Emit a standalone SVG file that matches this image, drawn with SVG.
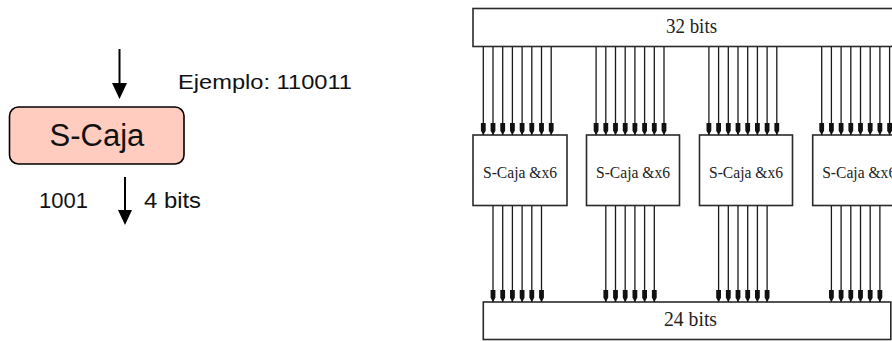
<svg xmlns="http://www.w3.org/2000/svg" width="892" height="341" viewBox="0 0 892 341">
<style>
.sans{font-family:"Liberation Sans",Arial,sans-serif;fill:#111}
.serif{font-family:"Liberation Serif","Times New Roman",serif;fill:#222}
.box{fill:#fff;stroke:#2a2a2a;stroke-width:1.6}
.w line{stroke:#1a1a1a;stroke-width:1.3;marker-end:url(#sm)}
.ar{stroke:#000;stroke-width:2}
</style>
<defs>
<marker id="sm" markerUnits="userSpaceOnUse" markerWidth="12" markerHeight="6" refX="11" refY="2.5" orient="auto" viewBox="0 0 11 5">
<path d="M0,0.3 L7,0.3 L11,2.5 L7,4.7 L0,4.7 Z" fill="#111"/>
</marker>
</defs>

<g id="left-connectors">
<line class="ar" x1="119.5" y1="49" x2="119.5" y2="84"/>
<path d="M112,83 L127,83 L119.5,99 Z" fill="#000"/>
<line class="ar" x1="125" y1="177" x2="125" y2="211"/>
<path d="M118,210 L132,210 L125,225 Z" fill="#000"/>
</g>

<g id="scaja-node">
<rect x="9.5" y="107" width="174.5" height="57" rx="9" ry="9" fill="#FFCCBF" stroke="#000" stroke-width="1.6"/>
<text class="sans" x="97" y="146" font-size="31" text-anchor="middle">S-Caja</text>
</g>

<g id="left-labels">
<text class="sans" x="178" y="89" font-size="21" textLength="174" lengthAdjust="spacingAndGlyphs">Ejemplo: 110011</text>
<text class="sans" x="39" y="208" font-size="22">1001</text>
<text class="sans" x="144" y="208" font-size="22" textLength="57" lengthAdjust="spacingAndGlyphs">4 bits</text>
</g>

<g id="input-32">
<rect class="box" x="473" y="8.5" width="440" height="38"/>
<text class="serif" x="691.5" y="33" font-size="21" text-anchor="middle" textLength="51" lengthAdjust="spacingAndGlyphs">32 bits</text>
</g>

<g id="output-24">
<rect class="box" x="483.3" y="302" width="407.5" height="37.5"/>
<text class="serif" x="690.5" y="326" font-size="21" text-anchor="middle" textLength="53" lengthAdjust="spacingAndGlyphs">24 bits</text>
</g>

<g id="sbox-1">
<rect class="box" x="473" y="135" width="94" height="70.5"/>
<text class="serif" x="520" y="178" font-size="17" text-anchor="middle" textLength="74" lengthAdjust="spacingAndGlyphs">S-Caja &amp;x6</text>
</g>
<g id="sbox-2">
<rect class="box" x="586.5" y="135" width="93" height="70.5"/>
<text class="serif" x="633" y="178" font-size="17" text-anchor="middle" textLength="74" lengthAdjust="spacingAndGlyphs">S-Caja &amp;x6</text>
</g>
<g id="sbox-3">
<rect class="box" x="699.5" y="135" width="93" height="70.5"/>
<text class="serif" x="746" y="178" font-size="17" text-anchor="middle" textLength="74" lengthAdjust="spacingAndGlyphs">S-Caja &amp;x6</text>
</g>
<g id="sbox-4">
<rect class="box" x="812.7" y="135" width="93" height="70.5"/>
<text class="serif" x="859.2" y="178" font-size="17" text-anchor="middle" textLength="74" lengthAdjust="spacingAndGlyphs">S-Caja &amp;x6</text>
</g>

<g id="connectors" class="w">
<line x1="483.3" y1="47" x2="483.3" y2="135"/><line x1="493" y1="47" x2="493" y2="135"/><line x1="502.7" y1="47" x2="502.7" y2="135"/><line x1="512.4" y1="47" x2="512.4" y2="135"/><line x1="522.1" y1="47" x2="522.1" y2="135"/><line x1="531.8" y1="47" x2="531.8" y2="135"/><line x1="541.5" y1="47" x2="541.5" y2="135"/><line x1="551.2" y1="47" x2="551.2" y2="135"/>
<line x1="596.1" y1="47" x2="596.1" y2="135"/><line x1="605.8" y1="47" x2="605.8" y2="135"/><line x1="615.5" y1="47" x2="615.5" y2="135"/><line x1="625.2" y1="47" x2="625.2" y2="135"/><line x1="634.9" y1="47" x2="634.9" y2="135"/><line x1="644.6" y1="47" x2="644.6" y2="135"/><line x1="654.3" y1="47" x2="654.3" y2="135"/><line x1="664" y1="47" x2="664" y2="135"/>
<line x1="708.9" y1="47" x2="708.9" y2="135"/><line x1="718.6" y1="47" x2="718.6" y2="135"/><line x1="728.3" y1="47" x2="728.3" y2="135"/><line x1="738" y1="47" x2="738" y2="135"/><line x1="747.7" y1="47" x2="747.7" y2="135"/><line x1="757.4" y1="47" x2="757.4" y2="135"/><line x1="767.1" y1="47" x2="767.1" y2="135"/><line x1="776.8" y1="47" x2="776.8" y2="135"/>
<line x1="821.7" y1="47" x2="821.7" y2="135"/><line x1="831.4" y1="47" x2="831.4" y2="135"/><line x1="841.1" y1="47" x2="841.1" y2="135"/><line x1="850.8" y1="47" x2="850.8" y2="135"/><line x1="860.5" y1="47" x2="860.5" y2="135"/><line x1="870.2" y1="47" x2="870.2" y2="135"/><line x1="879.9" y1="47" x2="879.9" y2="135"/><line x1="889.6" y1="47" x2="889.6" y2="135"/>
<line x1="493" y1="206" x2="493" y2="302"/><line x1="502.7" y1="206" x2="502.7" y2="302"/><line x1="512.4" y1="206" x2="512.4" y2="302"/><line x1="522.1" y1="206" x2="522.1" y2="302"/><line x1="531.8" y1="206" x2="531.8" y2="302"/><line x1="541.5" y1="206" x2="541.5" y2="302"/>
<line x1="605.8" y1="206" x2="605.8" y2="302"/><line x1="615.5" y1="206" x2="615.5" y2="302"/><line x1="625.2" y1="206" x2="625.2" y2="302"/><line x1="634.9" y1="206" x2="634.9" y2="302"/><line x1="644.6" y1="206" x2="644.6" y2="302"/><line x1="654.3" y1="206" x2="654.3" y2="302"/>
<line x1="718.6" y1="206" x2="718.6" y2="302"/><line x1="728.3" y1="206" x2="728.3" y2="302"/><line x1="738" y1="206" x2="738" y2="302"/><line x1="747.7" y1="206" x2="747.7" y2="302"/><line x1="757.4" y1="206" x2="757.4" y2="302"/><line x1="767.1" y1="206" x2="767.1" y2="302"/>
<line x1="831.4" y1="206" x2="831.4" y2="302"/><line x1="841.1" y1="206" x2="841.1" y2="302"/><line x1="850.8" y1="206" x2="850.8" y2="302"/><line x1="860.5" y1="206" x2="860.5" y2="302"/><line x1="870.2" y1="206" x2="870.2" y2="302"/><line x1="879.9" y1="206" x2="879.9" y2="302"/>
</g>
</svg>
